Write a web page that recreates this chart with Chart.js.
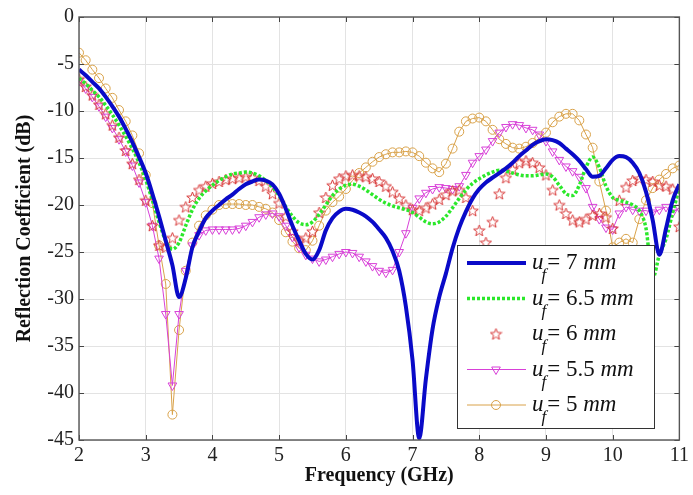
<!DOCTYPE html>
<html>
<head>
<meta charset="utf-8">
<script src="https://cdn.jsdelivr.net/npm/chart.js@4.4.1/dist/chart.umd.min.js"></script>
<style>
  html, body { margin: 0; padding: 0; background: #fff; }
  canvas { display: block; }
</style>
</head>
<body>
<canvas id="chart" width="693" height="495"></canvas>
<script>
// frequency samples (GHz)
const freq = [2.0,2.1,2.2,2.3,2.4,2.5,2.6,2.7,2.8,2.9,
  3.0,3.1,3.2,3.3,3.4,3.5,3.6,3.7,3.8,3.9,
  4.0,4.1,4.2,4.3,4.4,4.5,4.6,4.7,4.8,4.9,
  5.0,5.1,5.2,5.3,5.4,5.5,5.6,5.7,5.8,5.9,
  6.0,6.1,6.2,6.3,6.4,6.5,6.6,6.7,6.8,6.9,
  7.0,7.1,7.2,7.3,7.4,7.5,7.6,7.7,7.8,7.9,
  8.0,8.1,8.2,8.3,8.4,8.5,8.6,8.7,8.8,8.9,
  9.0,9.1,9.2,9.3,9.4,9.5,9.6,9.7,9.8,9.9,
  10.0,10.1,10.2,10.3,10.4,10.5,10.6,10.7,10.8,10.9,
  11.0];

// reflection coefficient (dB) for each feed length
const uf7 = [-5.6,-6.2,-6.9,-7.6,-8.5,-9.5,-10.6,-11.9,-13.3,-14.9,
  -16.6,-18.8,-21.2,-23.8,-26.4,-29.8,-27.8,-24.5,-22.8,-21.4,
  -20.6,-20.0,-19.4,-18.9,-18.3,-17.8,-17.5,-17.3,-17.4,-17.8,
  -18.8,-20.4,-22.2,-23.8,-25.2,-25.8,-24.8,-22.7,-21.4,-20.7,
  -20.4,-20.5,-20.8,-21.2,-21.8,-22.6,-23.5,-24.9,-27.0,-30.8,
  -36.5,-44.8,-38.5,-33.2,-29.8,-27.3,-24.6,-22.4,-20.7,-19.3,
  -18.3,-17.6,-17.1,-16.6,-16.1,-15.5,-14.8,-14.2,-13.6,-13.2,
  -13.0,-13.1,-13.4,-14.0,-14.6,-15.3,-16.2,-17.0,-16.9,-16.1,
  -15.2,-14.8,-14.9,-15.5,-16.6,-18.6,-21.6,-25.3,-22.5,-19.5,
  -17.8];

const uf65 = [-6.5,-7.1,-7.8,-8.5,-9.4,-10.4,-11.5,-12.7,-14.0,-15.5,
  -17.3,-19.5,-21.8,-23.8,-24.7,-24.0,-22.2,-20.5,-19.3,-18.5,
  -17.9,-17.4,-17.0,-16.7,-16.6,-16.5,-16.6,-16.9,-17.4,-18.1,
  -19.0,-20.2,-21.2,-21.9,-22.1,-21.8,-21.0,-20.0,-19.0,-18.3,
  -17.9,-17.8,-18.0,-18.4,-18.9,-19.4,-19.8,-20.1,-20.3,-20.5,
  -20.8,-21.3,-21.8,-22.0,-21.8,-21.2,-20.3,-19.3,-18.4,-17.7,
  -17.2,-16.8,-16.5,-16.3,-16.4,-16.6,-16.8,-16.9,-16.9,-16.8,
  -16.7,-17.0,-17.9,-18.8,-19.0,-17.9,-16.0,-14.9,-16.0,-18.0,
  -19.2,-19.5,-19.7,-20.0,-20.6,-22.5,-27.8,-25.3,-23.6,-20.8,
  -18.2];

const uf6 = [-6.6,-7.4,-8.3,-9.3,-10.3,-11.5,-12.8,-14.2,-15.6,-17.3,
  -19.5,-22.2,-24.3,-24.5,-23.5,-21.6,-20.2,-19.2,-18.4,-18.0,
  -17.7,-17.5,-17.3,-17.2,-17.1,-17.0,-17.1,-17.4,-18.0,-18.8,
  -19.8,-21.2,-22.8,-23.8,-23.5,-22.8,-20.8,-19.2,-17.9,-17.2,
  -16.9,-16.8,-16.9,-17.0,-17.2,-17.5,-18.0,-18.6,-19.3,-20.0,
  -20.5,-20.6,-20.3,-19.9,-19.4,-18.9,-18.5,-18.4,-19.2,-20.6,
  -22.7,-24.0,-21.8,-18.8,-17.1,-16.2,-15.5,-15.3,-15.5,-16.0,
  -16.8,-18.4,-20.0,-20.9,-21.6,-21.8,-21.5,-21.1,-20.9,-21.3,
  -22.5,-19.5,-18.1,-17.4,-17.2,-17.3,-17.5,-17.9,-18.0,-18.3,
  -22.3];

const uf55 = [-6.8,-7.6,-8.5,-9.5,-10.6,-11.8,-13.0,-14.3,-15.8,-17.6,
  -19.7,-22.2,-25.7,-31.6,-39.2,-31.6,-27.0,-24.3,-23.2,-22.7,
  -22.6,-22.6,-22.6,-22.6,-22.5,-22.2,-21.8,-21.3,-21.0,-20.9,
  -21.2,-22.2,-23.4,-24.5,-25.3,-25.7,-26.0,-25.8,-25.5,-25.2,
  -25.0,-25.1,-25.5,-26.0,-26.5,-27.0,-27.2,-26.9,-25.0,-23.0,
  -20.3,-19.3,-18.7,-18.3,-18.1,-18.2,-18.3,-18.0,-16.8,-15.5,
  -14.8,-14.1,-13.2,-12.3,-11.7,-11.4,-11.5,-11.8,-12.0,-12.5,
  -13.2,-14.3,-15.2,-15.9,-16.4,-17.0,-18.2,-20.2,-21.5,-22.4,
  -22.6,-20.9,-20.2,-20.5,-20.6,-20.6,-20.8,-20.5,-20.2,-20.8,
  -20.3];

const uf5 = [-3.8,-4.6,-5.6,-6.5,-7.6,-8.6,-9.9,-11.1,-12.6,-14.5,
  -16.8,-19.8,-24.3,-28.4,-42.3,-33.3,-27.0,-24.0,-22.2,-21.1,
  -20.5,-20.0,-19.9,-19.9,-19.9,-20.0,-20.0,-20.2,-20.4,-20.8,
  -21.6,-22.9,-23.9,-24.6,-24.8,-23.8,-22.2,-20.6,-19.7,-19.1,
  -18.3,-17.4,-16.6,-16.0,-15.4,-14.9,-14.6,-14.4,-14.4,-14.3,
  -14.4,-14.8,-15.5,-16.1,-16.5,-15.6,-14.0,-12.2,-11.1,-10.8,
  -10.7,-11.1,-12.0,-13.0,-13.5,-13.9,-14.0,-13.8,-13.4,-12.9,
  -12.3,-11.2,-10.6,-10.3,-10.3,-11.0,-12.5,-13.9,-17.5,-20.6,
  -24.5,-24.0,-23.6,-24.0,-21.5,-19.5,-18.2,-17.3,-16.7,-16.1,
  -15.8];

const seriesValues = ['7', '6.5', '6', '5.5', '5'];

function pts(arr) {
  return freq.map((f, i) => ({ x: f, y: arr[i] }));
}

// five pointed star marker (Chart.js 'star' is an asterisk)
function starImage(color) {
  const c = document.createElement('canvas');
  c.width = 13; c.height = 13;
  const g = c.getContext('2d');
  g.strokeStyle = color;
  g.lineWidth = 1;
  g.beginPath();
  for (let k = 0; k < 10; k++) {
    const r = k % 2 ? 2.5 : 6;
    const a = -Math.PI / 2 + k * Math.PI / 5;
    const px = 6.5 + r * Math.cos(a), py = 7 + r * Math.sin(a);
    if (k) g.lineTo(px, py); else g.moveTo(px, py);
  }
  g.closePath();
  g.stroke();
  return c;
}

const frameAndLegend = {
  id: 'frameAndLegend',
  afterDatasetsDraw(chart) {
    const ctx = chart.ctx;
    const a = chart.chartArea;
    const xs = chart.scales.x, ys = chart.scales.y;
    ctx.save();
    // inward ticks
    ctx.strokeStyle = '#444';
    ctx.lineWidth = 1;
    ctx.beginPath();
    xs.ticks.forEach(t => {
      const px = Math.round(xs.getPixelForValue(t.value)) + 0.5;
      ctx.moveTo(px, a.bottom); ctx.lineTo(px, a.bottom - 5);
      ctx.moveTo(px, a.top); ctx.lineTo(px, a.top + 5);
    });
    ys.ticks.forEach(t => {
      const py = Math.round(ys.getPixelForValue(t.value)) + 0.5;
      ctx.moveTo(a.left, py); ctx.lineTo(a.left + 5, py);
      ctx.moveTo(a.right, py); ctx.lineTo(a.right - 5, py);
    });
    ctx.stroke();
    // box
    ctx.strokeStyle = '#555';
    ctx.lineWidth = 1.4;
    ctx.strokeRect(a.left, a.top, a.right - a.left, a.bottom - a.top);

    // legend
    const L = { x: 457, y: 245, w: 197, h: 183 };
    ctx.fillStyle = '#fff';
    ctx.fillRect(L.x, L.y, L.w, L.h);
    ctx.strokeStyle = '#333';
    ctx.lineWidth = 1;
    ctx.strokeRect(L.x + 0.5, L.y + 0.5, L.w, L.h);

    chart.data.datasets.forEach((ds, i) => {
      const cy = L.y + 18 + i * 35.5;
      if (ds.showLine !== false) {
        ctx.save();
        ctx.strokeStyle = ds.borderColor;
        ctx.lineWidth = ds.borderWidth;
        ctx.setLineDash(ds.borderDash || []);
        ctx.beginPath();
        ctx.moveTo(L.x + 10, cy);
        ctx.lineTo(L.x + 69, cy);
        ctx.stroke();
        ctx.restore();
      }
      if (ds.pointRadius > 0) {
        ctx.save();
        ctx.strokeStyle = ds.pointBorderColor || ds.borderColor;
        ctx.fillStyle = 'rgba(0,0,0,0)';
        ctx.lineWidth = 1;
        Chart.helpers.drawPoint(ctx, {
          pointStyle: ds.pointStyle,
          rotation: ds.pointRotation || 0,
          radius: ds.pointRadius,
          borderWidth: 1
        }, L.x + 39, cy);
        ctx.restore();
      }
      // label: u_f = N mm
      let tx = L.x + 75;
      ctx.fillStyle = '#111';
      ctx.textBaseline = 'middle';
      ctx.font = 'italic 23px "Liberation Serif"';
      ctx.fillText('u', tx, cy);
      tx += ctx.measureText('u').width;
      ctx.font = 'italic 17px "Liberation Serif"';
      ctx.fillText('f', tx - 2, cy + 13);
      tx += ctx.measureText('f').width - 1;
      ctx.font = '23px "Liberation Serif"';
      const mid = '= ' + seriesValues[i] + ' ';
      ctx.fillText(mid, tx, cy);
      tx += ctx.measureText(mid).width;
      ctx.font = 'italic 23px "Liberation Serif"';
      ctx.fillText('mm', tx, cy);
    });
    ctx.restore();
  }
};

new Chart(document.getElementById('chart'), {
  type: 'line',
  data: {
    datasets: [
      {
        data: pts(uf7),
        borderColor: '#0a0ac8',
        borderWidth: 4,
        pointRadius: 0,
        cubicInterpolationMode: 'monotone'
      },
      {
        data: pts(uf65),
        borderColor: '#2be82b',
        borderWidth: 3.5,
        borderDash: [3, 2],
        pointRadius: 0,
        cubicInterpolationMode: 'monotone'
      },
      {
        data: pts(uf6),
        showLine: false,
        borderColor: '#d83a3a',
        borderWidth: 1,
        pointStyle: starImage('#d83a3a'),
        pointRadius: 6
      },
      {
        data: pts(uf55),
        borderColor: '#d840d8',
        borderWidth: 1,
        pointStyle: 'triangle',
        pointRotation: 180,
        pointRadius: 5,
        pointBorderColor: '#d840d8',
        pointBackgroundColor: 'rgba(0,0,0,0)',
        pointBorderWidth: 1,
        tension: 0
      },
      {
        data: pts(uf5),
        borderColor: '#d9a24a',
        borderWidth: 1,
        pointStyle: 'circle',
        pointRadius: 4.5,
        pointBorderColor: '#d9a24a',
        pointBackgroundColor: 'rgba(0,0,0,0)',
        pointBorderWidth: 1,
        tension: 0
      }
    ]
  },
  options: {
    responsive: false,
    animation: false,
    devicePixelRatio: 1,
    layout: { padding: { top: 16, right: 11, left: 0, bottom: 0 } },
    plugins: { legend: { display: false }, tooltip: { enabled: false } },
    scales: {
      x: {
        type: 'linear',
        min: 2, max: 11,
        afterFit: s => { s.height = 55; },
        border: { display: false },
        grid: { color: '#e3e3e3', drawTicks: false },
        ticks: {
          stepSize: 1, padding: 4, color: '#222',
          font: { family: 'Liberation Serif', size: 20 }
        },
        title: {
          display: true, text: 'Frequency (GHz)', color: '#111',
          padding: { top: 0, bottom: 7 },
          font: { family: 'Liberation Serif', size: 20, weight: 'bold' }
        }
      },
      y: {
        min: -45, max: 0,
        afterFit: s => { s.width = 79; },
        border: { display: false },
        grid: { color: '#e3e3e3', drawTicks: false },
        ticks: {
          stepSize: 5, padding: 5, color: '#222',
          font: { family: 'Liberation Serif', size: 20 }
        },
        title: {
          display: true, text: 'Reflection Coefficient (dB)', color: '#111',
          padding: { top: 13, bottom: 0 },
          font: { family: 'Liberation Serif', size: 20, weight: 'bold' }
        }
      }
    }
  },
  plugins: [frameAndLegend]
});
</script>
</body>
</html>
